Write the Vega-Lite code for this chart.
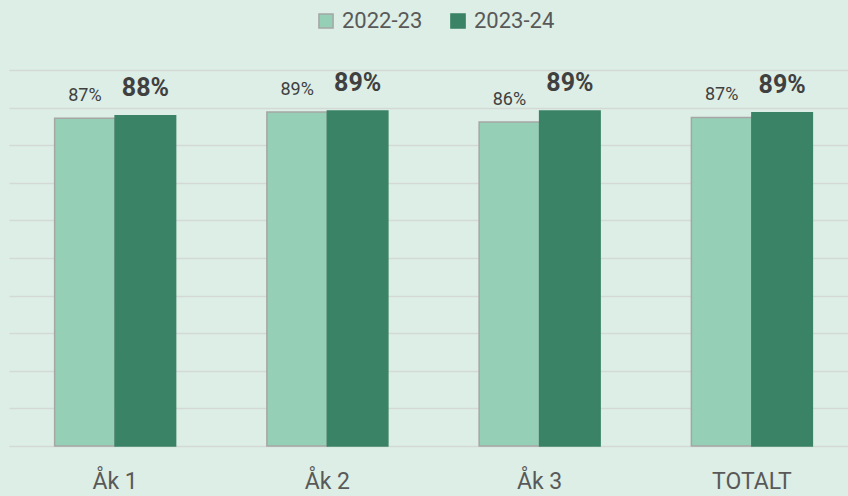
{
  "$schema": "https://vega.github.io/schema/vega-lite/v6.json",
  "width": 849,
  "height": 376,
  "autosize": "none",
  "padding": {"left": 9, "top": 70, "right": 0, "bottom": 50},
  "background": "#DCEEE5",
  "config": {
    "view": {"stroke": null},
    "font": "Roboto"
  },
  "data": {
    "values": [
      {"grupp": "Åk 1", "period": "2022-23", "andel": 0.872},
      {"grupp": "Åk 1", "period": "2023-24", "andel": 0.878},
      {"grupp": "Åk 2", "period": "2022-23", "andel": 0.888},
      {"grupp": "Åk 2", "period": "2023-24", "andel": 0.891},
      {"grupp": "Åk 3", "period": "2022-23", "andel": 0.862},
      {"grupp": "Åk 3", "period": "2023-24", "andel": 0.891},
      {"grupp": "TOTALT", "period": "2022-23", "andel": 0.874},
      {"grupp": "TOTALT", "period": "2023-24", "andel": 0.886}
    ]
  },
  "encoding": {
    "x": {
      "field": "grupp",
      "type": "nominal",
      "sort": null,
      "scale": {"paddingInner": 0.43, "paddingOuter": 0.215},
      "axis": {
        "title": null,
        "labelAngle": 0,
        "labelFontSize": 23,
        "labelColor": "#595959",
        "labelPadding": 24,
        "ticks": false,
        "domain": false
      }
    },
    "xOffset": {"field": "period", "type": "nominal"},
    "y": {
      "field": "andel",
      "type": "quantitative",
      "scale": {"domain": [0, 1], "nice": false},
      "axis": {
        "title": null,
        "labels": false,
        "ticks": false,
        "domain": false,
        "values": [0, 0.1, 0.2, 0.3, 0.4, 0.5, 0.6, 0.7, 0.8, 0.9, 1],
        "gridColor": "#D4D9D6",
        "gridWidth": 1.5
      }
    }
  },
  "layer": [
    {
      "mark": {"type": "bar", "strokeWidth": 1.5},
      "encoding": {
        "color": {
          "field": "period",
          "type": "nominal",
          "scale": {"domain": ["2022-23", "2023-24"], "range": ["#94CFB6", "#3A8366"]},
          "legend": {
            "title": null,
            "orient": "none",
            "direction": "horizontal",
            "legendX": 306,
            "legendY": -60,
            "symbolType": "square",
            "symbolSize": 200,
            "symbolStrokeWidth": 1.5,
            "labelFontSize": 22,
            "labelColor": "#595959",
            "columnPadding": 24,
            "labelOffset": 5
          }
        },
        "stroke": {
          "field": "period",
          "type": "nominal",
          "scale": {"domain": ["2022-23", "2023-24"], "range": ["#A6A6A6", "#3A8366"]},
          "legend": null
        }
      }
    },
    {
      "transform": [{"filter": "datum.period === '2022-23'"}],
      "mark": {"type": "text", "baseline": "bottom", "dy": -13, "fontSize": 18, "color": "#404040"},
      "encoding": {
        "text": {"field": "andel", "type": "quantitative", "format": ".0%"}
      }
    },
    {
      "transform": [{"filter": "datum.period === '2023-24'"}],
      "mark": {"type": "text", "baseline": "bottom", "dy": -15, "fontSize": 25, "fontWeight": "bold", "color": "#404040"},
      "encoding": {
        "text": {"field": "andel", "type": "quantitative", "format": ".0%"}
      }
    }
  ]
}
